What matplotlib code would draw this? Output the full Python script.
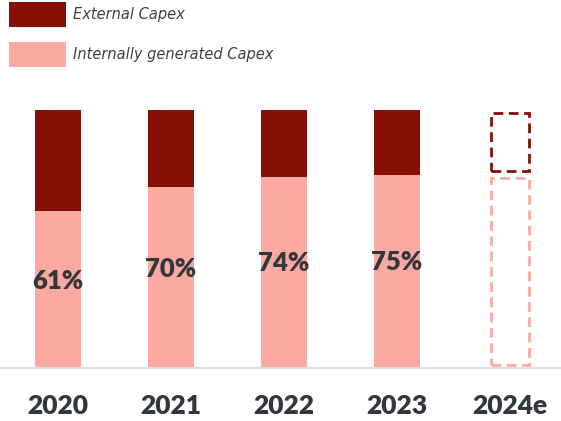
import matplotlib.pyplot as plt
from matplotlib.patches import Patch

years = ['2020', '2021', '2022', '2023', '2024e']
internal = [61, 70, 74, 75, 75]
external = [100 - v for v in internal]
shown_labels = ['61%', '70%', '74%', '75%', '']
estimate = [False, False, False, False, True]

dark_red = '#850E05'
pink = '#FBA9A1'
text_col = '#32363d'

plt.rcParams['font.family'] = ['Lato', 'DejaVu Sans']

fig = plt.figure(figsize=(5.61, 4.21), dpi=100)
ax = fig.add_axes([0, 53 / 421, 1, 258 / 421])

step = 113.0
xs = list(range(len(years)))
for x, inn, ext, est in zip(xs, internal, external, estimate):
    if not est:
        ax.bar(x, inn, width=0.405, color=pink, linewidth=0)
        ax.bar(x, ext, bottom=inn, width=0.405, color=dark_red, linewidth=0)
    else:
        # forecast year: dashed outlines only, with a small gap between parts
        gap = 1.2
        ax.bar(x, inn - gap - 1.2, bottom=1.2, width=0.335, fill=False,
               edgecolor=pink, linewidth=2, linestyle=(0, (3.5, 2)))
        ax.bar(x, ext - gap - 1.2, bottom=inn + gap, width=0.335, fill=False,
               edgecolor=dark_red, linewidth=2, linestyle=(0, (3.5, 2)))

for x, inn, lab in zip(xs, internal, shown_labels):
    if lab:
        ax.text(x, inn * 0.55, lab, ha='center', va='center',
                fontsize=18.5, fontweight='heavy', color=text_col)

ax.set_xlim(-58 / step, -58 / step + 561 / step)
ax.set_ylim(0, 100)
ax.set_xticks(xs)
ax.set_xticklabels(years, fontsize=19, fontweight='heavy', color=text_col)
ax.tick_params(axis='x', length=0, pad=18.5)
ax.set_yticks([])
for side in ['top', 'right', 'left']:
    ax.spines[side].set_visible(False)
ax.spines['bottom'].set_color('#dcdee3')
ax.spines['bottom'].set_linewidth(1.6)

handles = [Patch(facecolor=dark_red, label='External Capex'),
           Patch(facecolor=pink, label='Internally generated Capex')]
leg = fig.legend(handles=handles, loc='upper left',
                 bbox_to_anchor=(9 / 561, 1 - 2 / 421),
                 bbox_transform=fig.transFigure, frameon=False,
                 borderpad=0, borderaxespad=0,
                 prop={'family': 'DejaVu Sans', 'style': 'italic', 'size': 10.5},
                 handlelength=3.9, handleheight=2.26, handletextpad=0.5,
                 labelspacing=1.03)
for t in leg.get_texts():
    t.set_color('#404040')

fig.savefig('out.png', dpi=100)
